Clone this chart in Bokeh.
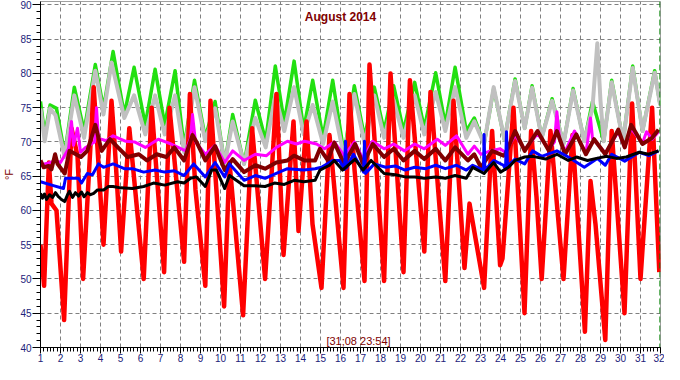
from bokeh.plotting import figure
from bokeh.models import ColumnDataSource, SingleIntervalTicker, Span, Label, Range1d
from bokeh.embed import file_html
from bokeh.resources import INLINE

# ---- data (day of month, deg F) ----
x_ticks = list(range(1, 33))
y_ticks = list(range(40, 91, 5))

red_pts = [(1.00, 55), (1.18, 49), (1.42, 67), (1.55, 61), (1.80, 60), (2.18, 44), (2.55, 72), (2.85, 68),
           (3.13, 50), (3.66, 78), (4.15, 55), (4.55, 76), (4.70, 70), (5.03, 54), (5.44, 72), (6.16, 50),
           (6.56, 75), (7.18, 51), (7.45, 75), (8.18, 52.5), (8.47, 77), (8.75, 63), (9.24, 49), (9.50, 76),
           (10.18, 46), (10.45, 67), (11.13, 44.7), (11.58, 72), (12.23, 50), (12.80, 77), (13.15, 53.5),
           (13.65, 73), (13.90, 57), (14.30, 73), (14.60, 58), (15.05, 48.7), (15.45, 71), (16.15, 48.7),
           (16.45, 77), (16.70, 66), (17.20, 49.7), (17.45, 81.3), (18.18, 49.7), (18.50, 80), (19.15, 51),
           (19.47, 79), (20.19, 54), (20.50, 77.3), (21.24, 49.7), (21.65, 76), (22.20, 51.6), (22.45, 61),
           (23.18, 48.7), (23.58, 71.6), (23.98, 52), (24.10, 53), (24.65, 75), (25.20, 45), (25.53, 71.6),
           (25.80, 62), (26.06, 50), (26.50, 71.6), (27.15, 50), (27.60, 71), (28.22, 42.3), (28.50, 64.3),
           (28.75, 58), (29.24, 41.1), (29.56, 71.6), (30.20, 45), (30.58, 75.6), (31.00, 50), (31.58, 75),
           (31.94, 51)]

green_pts = [(1.0, 75.9), (1.21, 71.1), (1.48, 75.4), (1.8, 74.9), (2.21, 68.2), (2.69, 78.0), (3.18, 71.6),
             (3.74, 81.3), (4.15, 74.9), (4.63, 83.2), (5.19, 74.0), (5.68, 80.9), (6.24, 72.5), (6.73, 80.6),
             (7.21, 72.5), (7.73, 80.4), (8.18, 69.2), (8.7, 79.0), (9.24, 70.6), (9.73, 75.9), (10.21, 66.8),
             (10.61, 74.0), (11.18, 66.8), (11.74, 76.1), (12.26, 70.1), (12.74, 81.1), (13.19, 72.8),
             (13.68, 81.8), (14.16, 71.8), (14.61, 79.0), (15.13, 70.6), (15.61, 79.0), (16.18, 68.2),
             (16.69, 78.2), (17.21, 70.6), (17.69, 78.0), (18.18, 71.6), (18.66, 78.2), (19.15, 71.6),
             (19.71, 78.7), (20.19, 72.0), (20.76, 80.1), (21.24, 72.5), (21.73, 80.9), (22.29, 71.6),
             (22.69, 73.5), (23.18, 69.7), (23.66, 77.8), (24.2, 70.3), (24.73, 79.2), (25.21, 72.0),
             (25.58, 78.2), (26.06, 70.6), (26.58, 76.3), (27.15, 69.7), (27.63, 77.8), (28.19, 70.1),
             (28.6, 75.9), (29.16, 70.1), (29.56, 79.0), (30.13, 70.1), (30.61, 81.1), (31.1, 71.6),
             (31.71, 80.4), (31.98, 75.4)]

grey_pts = [(1.0, 74.9), (1.21, 70.1), (1.48, 74.9), (1.75, 73.9), (2.21, 67.8), (2.69, 76.8), (3.18, 70.6),
            (3.74, 80.4), (4.15, 74.0), (4.55, 81.6), (5.19, 73.5), (5.68, 76.8), (6.24, 71.1), (6.73, 76.8),
            (7.21, 71.1), (7.73, 76.8), (8.18, 68.5), (8.7, 78.0), (9.24, 70.1), (9.73, 74.9), (10.21, 66.8),
            (10.61, 73.0), (11.18, 66.8), (11.74, 73.5), (12.26, 69.2), (12.74, 76.8), (13.19, 71.6),
            (13.68, 78.0), (14.16, 71.1), (14.61, 75.4), (15.13, 69.7), (15.61, 75.9), (16.18, 67.8),
            (16.69, 77.0), (17.21, 69.7), (17.69, 76.8), (18.18, 70.6), (18.66, 76.1), (19.15, 70.6),
            (19.71, 76.8), (20.19, 71.1), (20.76, 77.3), (21.24, 71.6), (21.73, 78.0), (22.29, 70.6),
            (22.69, 73.0), (23.18, 69.7), (23.66, 78.0), (24.2, 70.3), (24.73, 78.9), (25.21, 72.0),
            (25.58, 77.9), (26.06, 70.6), (26.58, 76.0), (27.15, 69.7), (27.63, 77.5), (28.19, 70.1),
            (28.6, 75.0), (28.84, 84.4), (29.0, 76.0), (29.16, 70.1), (29.56, 78.7), (30.13, 70.1),
            (30.61, 80.8), (31.1, 71.6), (31.71, 80.1), (31.98, 75.4)]

magenta_pts = [(1.0, 66.5), (1.2, 66.8), (1.5, 67.0), (1.7, 67.3), (2.0, 67.0), (2.4, 69.0), (2.55, 73.0),
               (2.65, 69.5), (2.85, 72.0), (3.0, 68.5), (3.26, 69.2), (3.7, 70.0), (3.8, 75.0), (3.9, 70.5),
               (4.3, 70.2), (4.63, 70.9), (5.27, 70.1), (5.7, 70.0), (6.24, 69.2), (6.89, 70.4), (7.53, 69.7),
               (8.26, 68.7), (8.5, 70.5), (8.6, 74.0), (8.75, 70.0), (9.24, 68.2), (9.73, 69.5), (10.21, 67.0),
               (10.61, 68.7), (11.18, 67.3), (11.74, 68.2), (12.3, 68.0), (12.79, 69.2), (13.35, 70.1),
               (13.8, 69.7), (14.2, 70.1), (14.8, 69.7), (15.2, 69.0), (15.69, 70.0), (16.18, 68.0),
               (16.7, 70.0), (17.13, 67.5), (17.6, 70.1), (18.18, 69.0), (18.66, 69.7), (19.2, 68.7),
               (19.71, 69.7), (20.19, 69.0), (20.84, 70.4), (21.24, 69.5), (21.8, 70.9), (22.37, 68.2),
               (22.69, 69.4), (23.02, 68.2), (23.5, 68.7), (23.98, 69.0), (24.24, 68.5), (24.73, 71.0),
               (25.21, 68.9), (25.85, 71.2), (26.42, 68.9), (26.7, 70.0), (26.82, 74.4), (26.95, 70.5),
               (27.23, 68.6), (27.7, 71.6), (28.27, 68.4), (28.4, 71.0), (28.5, 73.5), (28.6, 70.5),
               (29.24, 68.4), (29.89, 71.5), (30.21, 69.2), (30.53, 72.0), (31.1, 69.8), (31.3, 71.5),
               (31.58, 70.4), (31.9, 71.5)]

maroon_pts = [(1.0, 67.3), (1.16, 66.3), (1.4, 66.5), (1.55, 66.0), (1.73, 68.2), (1.85, 66.8), (2.21, 65.4),
              (2.45, 68.7), (3.02, 67.8), (3.34, 68.7), (3.74, 72.5), (4.06, 68.7), (4.47, 70.4), (4.87, 69.2),
              (5.35, 67.8), (5.92, 68.2), (6.32, 67.3), (6.81, 68.2), (7.29, 67.8), (7.69, 69.2), (8.18, 67.3),
              (8.6, 71.0), (8.8, 70.0), (9.24, 67.3), (9.73, 69.4), (10.21, 65.9), (10.61, 67.5), (11.18, 65.6),
              (11.74, 66.6), (12.23, 66.1), (12.79, 67.0), (13.35, 67.3), (13.68, 68.0), (14.2, 67.3),
              (14.73, 67.3), (14.97, 69.0), (15.37, 67.3), (15.69, 69.9), (16.18, 66.8), (16.73, 69.7),
              (17.13, 66.8), (17.61, 69.7), (18.18, 67.8), (18.66, 69.0), (19.15, 67.3), (19.71, 68.7),
              (20.19, 67.5), (20.76, 69.0), (21.24, 67.3), (21.73, 69.2), (22.37, 67.3), (22.69, 68.2),
              (23.02, 66.3), (23.58, 68.7), (24.15, 68.0), (24.24, 68.2), (24.73, 71.6), (25.21, 68.7),
              (25.85, 71.6), (26.42, 68.7), (26.82, 71.6), (27.23, 68.2), (27.79, 71.1), (28.27, 68.2),
              (28.68, 70.4), (29.24, 68.2), (29.89, 71.8), (30.21, 69.2), (30.53, 72.5), (31.1, 69.7),
              (31.58, 70.6), (31.9, 71.8)]

blue_pts = [(1.0, 64.2), (1.56, 63.7), (2.15, 63.2), (2.25, 64.7), (2.9, 64.7), (3.05, 64.0), (3.34, 65.4),
            (3.6, 65.2), (3.9, 66.8), (4.15, 66.3), (4.63, 66.8), (5.19, 66.1), (5.6, 66.1), (6.16, 65.6),
            (6.73, 65.9), (7.21, 65.6), (7.69, 65.8), (8.18, 65.1), (8.66, 66.8), (9.24, 64.9), (9.73, 67.0),
            (10.21, 64.9), (10.45, 66.8), (11.18, 64.4), (11.74, 65.1), (12.23, 64.7), (12.79, 65.4),
            (13.35, 66.1), (14.16, 65.9), (14.73, 66.1), (15.05, 66.3), (15.61, 67.3), (15.95, 67.3),
            (16.2, 66.0), (16.25, 70.1), (16.3, 66.2), (16.65, 68.2), (17.15, 65.6), (17.2, 70.1),
            (17.25, 65.4), (17.69, 66.8), (18.26, 66.3), (18.74, 66.5), (19.23, 65.9), (19.71, 66.3),
            (20.27, 66.1), (20.76, 66.6), (21.24, 66.1), (21.8, 66.6), (22.29, 65.9), (22.61, 66.6),
            (23.15, 65.9), (23.18, 71.1), (23.22, 65.9), (23.66, 67.3), (24.15, 66.6), (24.25, 66.0),
            (24.3, 71.5), (24.35, 66.5), (24.73, 67.5), (25.21, 66.8), (25.61, 68.7), (26.06, 67.9),
            (26.82, 68.7), (27.39, 67.8), (28.19, 66.3), (28.84, 67.6), (29.24, 66.6), (29.56, 68.2),
            (30.21, 67.2), (30.94, 68.5), (31.42, 68.0), (31.9, 68.7)]

black_pts = [(1.0, 62.5), (1.1, 61.8), (1.2, 62.4), (1.3, 61.6), (1.45, 62.3), (1.6, 61.9), (1.75, 62.6),
             (1.9, 62.0), (2.05, 61.6), (2.21, 61.3), (2.35, 62.3), (2.45, 62.8), (2.6, 61.9), (2.75, 62.6),
             (2.9, 62.1), (3.05, 62.7), (3.18, 62.0), (3.35, 62.6), (3.5, 62.3), (3.66, 62.5), (3.85, 63.0),
             (4.15, 63.0), (4.4, 63.5), (4.63, 63.5), (5.0, 63.3), (5.6, 63.2), (6.16, 63.5), (6.65, 64.0),
             (7.21, 63.7), (7.85, 64.2), (8.18, 64.0), (8.5, 64.7), (8.8, 64.9), (9.24, 63.5), (9.56, 65.9),
             (9.8, 65.9), (10.21, 63.2), (10.45, 65.1), (11.18, 63.6), (11.7, 63.6), (12.23, 63.5),
             (12.7, 64.0), (13.19, 63.8), (13.68, 64.4), (14.16, 64.2), (14.73, 64.4), (14.97, 65.9),
             (15.45, 66.6), (15.69, 67.3), (16.1, 65.9), (16.73, 67.5), (17.13, 65.9), (17.53, 67.3),
             (18.18, 65.4), (18.74, 65.2), (19.23, 64.9), (19.71, 64.9), (20.19, 64.7), (20.76, 64.9),
             (21.24, 64.7), (21.73, 65.1), (22.29, 64.7), (22.61, 66.3), (23.18, 65.4), (23.66, 67.0),
             (24.0, 65.6), (24.4, 66.3), (24.73, 67.3), (25.21, 67.8), (25.61, 67.9), (26.26, 67.5),
             (26.82, 68.2), (27.39, 67.3), (27.8, 67.8), (28.35, 67.3), (28.8, 67.6), (29.32, 67.9),
             (29.8, 67.6), (30.29, 67.8), (30.94, 68.5), (31.4, 68.2), (31.9, 68.7)]

title_text = "August 2014"
stamp_text = "[31;08 23:54]"
unit_text = "°F"
now_day = 31.97

# ---- figure ----
FONT = "Liberation Sans"
TICK_COLOR = "#22227a"
DARK_RED = "#800000"

p = figure(width=664, height=364, output_backend="svg", toolbar_location=None,
           x_range=Range1d(1, 32), y_range=Range1d(40, 90.5),
           min_border=0, min_border_top=1, min_border_right=4)
p.background_fill_color = "white"
p.border_fill_color = "white"
p.outline_line_color = "#a0a0a0"

p.xaxis.ticker = SingleIntervalTicker(interval=1, num_minor_ticks=6)
p.yaxis.ticker = SingleIntervalTicker(interval=5, num_minor_ticks=5)
for ax in (p.xaxis, p.yaxis):
    ax.axis_line_color = "black"
    ax.major_tick_line_color = "black"
    ax.minor_tick_line_color = "black"
    ax.major_tick_in = 0
    ax.minor_tick_in = 0
    ax.major_label_text_color = TICK_COLOR
    ax.major_label_text_font = FONT
    ax.major_label_text_font_size = "10px"
p.xaxis.major_tick_out = 6
p.xaxis.minor_tick_out = 4
p.xaxis.major_label_standoff = 0
p.yaxis.major_tick_out = 8
p.yaxis.minor_tick_out = 4
p.yaxis.major_label_standoff = 1
p.yaxis.axis_label = unit_text
p.yaxis.axis_label_text_color = DARK_RED
p.yaxis.axis_label_text_font = FONT
p.yaxis.axis_label_text_font_size = "11px"
p.yaxis.axis_label_text_font_style = "normal"
p.yaxis.axis_label_standoff = 2

p.grid.grid_line_color = "#808080"
p.grid.grid_line_dash = "4 3"
p.grid.grid_line_width = 1


def add(pts, color, width):
    src = ColumnDataSource(dict(t=[a for a, b in pts], v=[b for a, b in pts]))
    p.line("t", "v", source=src, line_color=color, line_width=width, line_join="round")


add(green_pts, "#22e010", 3.5)
add(grey_pts, "#c0c0c0", 4)
add(red_pts, "#ff0000", 4.5)
add(magenta_pts, "#ff00ff", 3)
add(maroon_pts, "#800000", 4)
add(blue_pts, "#0000ff", 3)
add(black_pts, "#000000", 3)

p.add_layout(Span(location=now_day, dimension="height", line_color="#008000",
                  line_dash="6 3", line_width=1))

p.add_layout(Label(x=16.0, y=88.2, text=title_text, text_align="center", text_baseline="middle",
                   text_color=DARK_RED, text_font=FONT, text_font_size="12px", text_font_style="bold"))
p.add_layout(Label(x=16.9, y=40.9, text=stamp_text, text_align="center", text_baseline="middle",
                   text_color=DARK_RED, text_font=FONT, text_font_size="11px"))

open("out.html", "w").write(file_html(p, INLINE))
